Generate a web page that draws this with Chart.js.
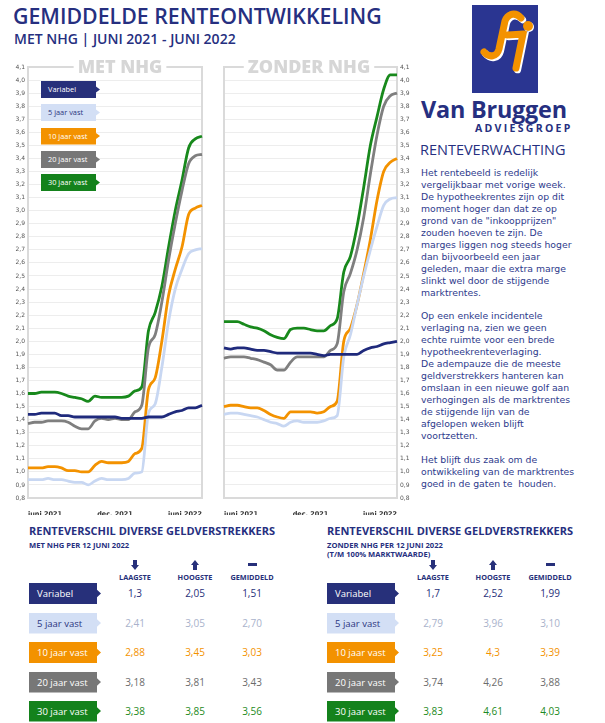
<!DOCTYPE html>
<html>
<head>
<meta charset="utf-8">
<script src="https://cdn.jsdelivr.net/npm/chart.js@4.4.1/dist/chart.umd.min.js"></script>
<style>
  body { margin: 0; width: 605px; height: 723px; position: relative; background: #fff; overflow: hidden; font-family: 'Open Sans', sans-serif; }
  .abs { position: absolute; white-space: nowrap; }
  .badge { position: absolute; box-sizing: border-box; white-space: nowrap;
    clip-path: polygon(0 0, calc(100% - 4px) 0, calc(100% - 4px) 32%, 100% 50%, calc(100% - 4px) 68%, calc(100% - 4px) 100%, 0 100%); }
  .val { position: absolute; width: 50px; margin-left: -25px; text-align: center; font-size: 10px; }
  .hdr { position: absolute; width: 60px; margin-left: -30px; text-align: center; font-size: 7.3px; font-weight: 700; color: #27307a; }
  #body { left: 421px; top: 167px; font-family: 'DejaVu Sans', sans-serif; font-size: 9.3px; line-height: 11.95px; color: #2e3a8c; white-space: pre; }
</style>
</head>
<body>

<div class="abs" style="left:13px;top:1px;font-size:21.3px;font-weight:600;color:#262f80">GEMIDDELDE RENTEONTWIKKELING</div>
<div class="abs" style="left:14px;top:29px;font-size:14px;font-weight:600;color:#262f80">MET NHG | JUNI 2021 - JUNI 2022</div>

<div class="abs" style="left:6px;top:60px;width:200px;height:455px"><canvas id="metChart"></canvas></div>
<div class="abs" style="left:220px;top:60px;width:195px;height:455px"><canvas id="zonderChart"></canvas></div>

<!-- logo -->
<svg class="abs" style="left:472px;top:5px" width="66" height="88" viewBox="0 0 66 88">
  <rect x="0" y="0" width="66" height="88" fill="#2a3591"/>
  <g fill="none" stroke="#ffffff" stroke-width="7" stroke-linecap="round" transform="translate(1.6,1.8)">
    <path d="M49 13 C44 7 36 8 33 16 L27 44 C25 52 17 53 12 47"/>
    <path d="M35 30 L51 29 L44 63"/>
  </g>
  <g fill="none" stroke="#f39200" stroke-width="7" stroke-linecap="round">
    <path d="M49 13 C44 7 36 8 33 16 L27 44 C25 52 17 53 12 47"/>
    <path d="M35 30 L51 29 L44 63"/>
  </g>
  <circle cx="57" cy="22" r="5" fill="#ffffff"/>
  <circle cx="56" cy="21" r="5" fill="#f39200"/>
</svg>
<div class="abs" style="left:421px;top:93px;font-size:23.4px;font-weight:700;color:#262f80;letter-spacing:-0.2px">Van Bruggen</div>
<div class="abs" style="left:475px;top:121px;font-size:10.5px;font-weight:700;color:#262f80;letter-spacing:2.3px">ADVIESGROEP</div>

<div class="abs" style="left:420px;top:140px;font-size:14.5px;font-weight:500;color:#262f80">RENTEVERWACHTING</div>
<div class="abs" id="body">Het rentebeeld is redelijk
vergelijkbaar met vorige week.
De hypotheekrentes zijn op dit
moment hoger dan dat ze op
grond van de "inkoopprijzen"
zouden hoeven te zijn. De
marges liggen nog steeds hoger
dan bijvoorbeeld een jaar
geleden, maar die extra marge
slinkt wel door de stijgende
marktrentes.

Op een enkele incidentele
verlaging na, zien we geen
echte ruimte voor een brede
hypotheekrenteverlaging.
De adempauze die de meeste
geldverstrekkers hanteren kan
omslaan in een nieuwe golf aan
verhogingen als de marktrentes
de stijgende lijn van de
afgelopen weken blijft
voortzetten.

Het blijft dus zaak om de
ontwikkeling van de marktrentes
goed in de gaten te  houden.</div>

<!-- tables -->
<div class="abs" style="left:29px;top:523px;font-size:11px;font-weight:700;color:#262f80">RENTEVERSCHIL DIVERSE GELDVERSTREKKERS</div>
<div class="abs" style="left:29px;top:540px;font-size:7.6px;font-weight:700;color:#262f80">MET NHG PER 12 JUNI 2022</div>
<div class="abs" style="left:327px;top:523px;font-size:11px;font-weight:700;color:#262f80">RENTEVERSCHIL DIVERSE GELDVERSTREKKERS</div>
<div class="abs" style="left:327px;top:540px;font-size:7.6px;font-weight:700;color:#262f80">ZONDER NHG PER 12 JUNI 2022</div>
<div class="abs" style="left:327px;top:549px;font-size:7.6px;font-weight:700;color:#262f80">(T/M 100% MARKTWAARDE)</div>

<script>
// ---- data ----
const weeks = ['13-06-2021', '27-06-2021', '11-07-2021', '25-07-2021', '08-08-2021', '22-08-2021', '05-09-2021',
  '19-09-2021', '03-10-2021', '17-10-2021', '31-10-2021', '14-11-2021', '28-11-2021', '12-12-2021', '26-12-2021',
  '09-01-2022', '23-01-2022', '06-02-2022', '20-02-2022', '06-03-2022', '20-03-2022', '03-04-2022', '17-04-2022',
  '01-05-2022', '15-05-2022', '29-05-2022', '12-06-2022'];
const xTickIdx = [0, 13, 26];
const xTickText = ['juni 2021', 'dec. 2021', 'juni 2022'];

const seriesNames = ['Variabel', '5 jaar vast', '10 jaar vast', '20 jaar vast', '30 jaar vast'];

// met NHG
const metVariabel = [1.44, 1.44, 1.45, 1.45, 1.45, 1.43, 1.43, 1.42, 1.42, 1.42, 1.42, 1.42, 1.42, 1.42, 1.41, 1.41, 1.41, 1.41, 1.42, 1.42, 1.42, 1.44, 1.46, 1.47, 1.49, 1.49, 1.51];
const met5jaar = [0.94, 0.94, 0.94, 0.95, 0.94, 0.94, 0.93, 0.92, 0.92, 0.90, 0.93, 0.95, 0.94, 0.94, 0.94, 0.95, 0.99, 1.00, 1.45, 1.52, 1.80, 2.15, 2.40, 2.55, 2.67, 2.70, 2.71];
const met10jaar = [1.03, 1.03, 1.03, 1.04, 1.04, 1.03, 1.01, 1.01, 1.00, 1.00, 1.05, 1.08, 1.07, 1.07, 1.07, 1.08, 1.14, 1.18, 1.63, 1.72, 2.00, 2.35, 2.55, 2.72, 2.97, 3.02, 3.04];
const met20jaar = [1.37, 1.38, 1.38, 1.39, 1.39, 1.39, 1.38, 1.35, 1.33, 1.33, 1.39, 1.41, 1.40, 1.41, 1.40, 1.40, 1.46, 1.51, 1.95, 2.05, 2.30, 2.62, 2.90, 3.15, 3.36, 3.42, 3.43];
const met30jaar = [1.60, 1.60, 1.61, 1.61, 1.61, 1.60, 1.58, 1.57, 1.56, 1.54, 1.58, 1.57, 1.57, 1.57, 1.57, 1.58, 1.62, 1.65, 2.08, 2.22, 2.42, 2.72, 3.00, 3.23, 3.48, 3.55, 3.57];

// zonder NHG
const zonderVariabel = [1.95, 1.94, 1.95, 1.95, 1.94, 1.93, 1.93, 1.92, 1.91, 1.91, 1.91, 1.91, 1.91, 1.91, 1.90, 1.89, 1.90, 1.90, 1.90, 1.90, 1.90, 1.93, 1.95, 1.96, 1.98, 1.99, 2.00];
const zonder5jaar = [1.44, 1.45, 1.45, 1.44, 1.43, 1.42, 1.40, 1.38, 1.37, 1.35, 1.38, 1.39, 1.38, 1.38, 1.38, 1.39, 1.41, 1.43, 1.88, 2.05, 2.28, 2.50, 2.70, 2.88, 3.04, 3.09, 3.10];
const zonder10jaar = [1.50, 1.51, 1.51, 1.50, 1.49, 1.49, 1.47, 1.44, 1.42, 1.41, 1.46, 1.46, 1.46, 1.46, 1.45, 1.46, 1.50, 1.54, 2.00, 2.10, 2.28, 2.52, 2.78, 3.08, 3.30, 3.37, 3.40];
const zonder20jaar = [1.87, 1.88, 1.88, 1.88, 1.87, 1.86, 1.84, 1.82, 1.78, 1.78, 1.84, 1.88, 1.88, 1.88, 1.88, 1.88, 1.93, 1.98, 2.38, 2.52, 2.70, 2.95, 3.28, 3.58, 3.80, 3.88, 3.90];
const zonder30jaar = [2.15, 2.15, 2.15, 2.13, 2.11, 2.10, 2.08, 2.05, 2.03, 2.02, 2.09, 2.10, 2.10, 2.09, 2.08, 2.08, 2.12, 2.17, 2.53, 2.65, 2.88, 3.18, 3.50, 3.72, 3.93, 4.04, 4.04];

const yMin = 0.8, yMax = 4.1, yStep = 0.1;

// tables per 12 juni 2022
const tableCols = ['LAAGSTE', 'HOOGSTE', 'GEMIDDELD'];
const metLaagste = ['1,3', '2,41', '2,88', '3,18', '3,38'];
const metHoogste = ['2,05', '3,05', '3,45', '3,81', '3,85'];
const metGemiddeld = ['1,51', '2,70', '3,03', '3,43', '3,56'];
const zonderLaagste = ['1,7', '2,79', '3,25', '3,74', '3,83'];
const zonderHoogste = ['2,52', '3,96', '4,3', '4,26', '4,61'];
const zonderGemiddeld = ['1,99', '3,10', '3,39', '3,88', '4,03'];

// ---- styles ----
const lineColors = ['#1f2a7c', '#c8d7f2', '#f39200', '#7f7f7f', '#18891c'];
const badgeBg = ['#27307a', '#d3dff5', '#f39200', '#777777', '#14821c'];
const badgeFg = ['#ffffff', '#2b3580', '#ffffff', '#ffffff', '#ffffff'];
const valueColors = ['#27307a', '#a9b2cb', '#f39200', '#6c6c6c', '#1d8a22'];

const framePlugin = {
  id: 'frame',
  beforeDatasetsDraw(chart, args, opts) {
    const { ctx, chartArea: a } = chart;
    ctx.save();
    ctx.strokeStyle = '#dadada';
    ctx.lineWidth = 2;
    ctx.strokeRect(a.left, a.top, a.right - a.left, a.bottom - a.top);
    ctx.font = "800 18px 'Open Sans'";
    const w = ctx.measureText(opts.title).width;
    ctx.fillStyle = '#fff';
    ctx.fillRect(opts.cx - w / 2 - 4, a.top - 9, w + 8, 18);
    ctx.fillStyle = '#d6d6d6';
    ctx.textAlign = 'center';
    ctx.textBaseline = 'middle';
    ctx.fillText(opts.title, opts.cx, a.top + 1);
    ctx.restore();
  }
};

function makeChart(id, data, title, axisPos, pad, axisWidth) {
  const datasets = data.map((d, i) => ({
    label: seriesNames[i],
    data: d,
    borderColor: lineColors[i],
    borderWidth: 2.8,
    pointRadius: 0,
    cubicInterpolationMode: 'monotone',
    fill: false
  }));
  return new Chart(document.getElementById(id), {
    type: 'line',
    data: { labels: weeks, datasets },
    plugins: [framePlugin],
    options: {
      responsive: true,
      maintainAspectRatio: false,
      animation: false,
      layout: { padding: pad },
      plugins: {
        legend: { display: false },
        tooltip: { enabled: false },
        frame: { title: title.text, cx: title.cx }
      },
      scales: {
        x: {
          grid: { display: false },
          border: { display: false },
          afterFit: s => { s.height = 17; },
          ticks: {
            autoSkip: false, maxRotation: 0, align: 'inner', padding: 4,
            color: '#333', font: { family: 'DejaVu Sans', size: 6.5, weight: 'bold' },
            callback: (v, i) => { const k = xTickIdx.indexOf(i); return k >= 0 ? xTickText[k] : ''; }
          }
        },
        y: {
          position: axisPos,
          min: yMin, max: yMax,
          afterFit: s => { s.width = axisWidth; },
          grid: { color: '#ededed', lineWidth: 1, drawTicks: false },
          border: { display: false },
          ticks: {
            stepSize: yStep, autoSkip: false, padding: 3,
            color: '#555', font: { family: 'DejaVu Sans', size: 6 },
            callback: v => v.toFixed(1).replace('.', ',')
          }
        }
      }
    }
  });
}

makeChart('metChart', [metVariabel, met5jaar, met10jaar, met20jaar, met30jaar],
  { text: 'MET NHG', cx: 114 }, 'left', { top: 7, right: 3, left: 0, bottom: 0 }, 22);
makeChart('zonderChart', [zonderVariabel, zonder5jaar, zonder10jaar, zonder20jaar, zonder30jaar],
  { text: 'ZONDER NHG', cx: 89 }, 'right', { top: 7, right: 0, left: 3, bottom: 0 }, 18);

// ---- legend badges in the left chart ----
function addBadge(text, i, x, y, w, h, fs, padL) {
  const d = document.createElement('div');
  d.className = 'badge';
  d.style.cssText = `left:${x}px;top:${y}px;width:${w}px;height:${h}px;line-height:${h}px;` +
    `background:${badgeBg[i]};color:${badgeFg[i]};font-size:${fs}px;padding-left:${padL}px;`;
  d.textContent = text;
  document.body.appendChild(d);
}
const legendTops = [81, 104, 127.5, 151, 174];
seriesNames.forEach((n, i) => addBadge(n, i, 41, legendTops[i], 59, 17, 7.4, 7));

// ---- tables ----
const rowTops = [583, 612.5, 642, 671.5, 700.5];
function addEl(cls, html, x, y, style) {
  const d = document.createElement('div');
  d.className = cls;
  d.style.cssText = `left:${x}px;top:${y}px;` + (style || '');
  d.innerHTML = html;
  document.body.appendChild(d);
}
const icons = [
  '<svg width="8" height="10" viewBox="0 0 8 10"><path d="M2 0h4v5h2L4 10 0 5h2z" fill="#27307a"/></svg>',
  '<svg width="8" height="10" viewBox="0 0 8 10"><path d="M2 10h4V5h2L4 0 0 5h2z" fill="#27307a"/></svg>',
  '<svg width="9" height="10" viewBox="0 0 9 10"><rect x="0" y="3" width="9" height="3" fill="#27307a"/></svg>'
];
function buildTable(x0, colX, cols) {
  tableCols.forEach((c, j) => {
    addEl('hdr', icons[j], colX[j], 560, 'line-height:0');
    addEl('hdr', c, colX[j], 572);
  });
  seriesNames.forEach((n, i) => {
    addBadge(n, i, x0, rowTops[i], 72, 21, 9.5, 8);
    cols.forEach((col, j) => {
      addEl('val', col[i], colX[j], rowTops[i] + 3, `color:${valueColors[i]};`);
    });
  });
}
buildTable(29, [135, 195, 252], [metLaagste, metHoogste, metGemiddeld]);
buildTable(327, [433, 493, 550], [zonderLaagste, zonderHoogste, zonderGemiddeld]);
</script>
</body>
</html>
